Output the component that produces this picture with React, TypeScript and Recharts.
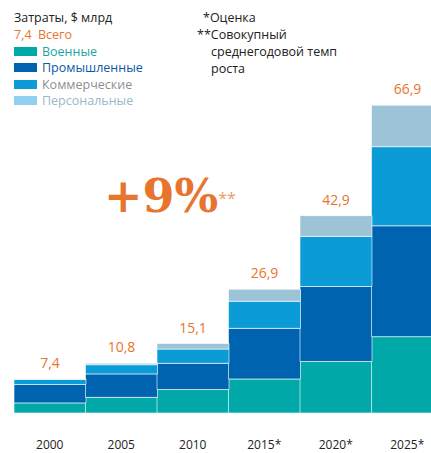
import { Bar, BarChart, LabelList, XAxis, YAxis } from 'recharts'

const years = ['2000', '2005', '2010', '2015*', '2020*', '2025*']
const military = [2.2, 3.4, 5.1, 7.4, 11.2, 16.6]
const industrial = [4.0, 5.1, 5.7, 11.0, 16.3, 24.1]
const commercial = [1.1, 2.0, 3.1, 5.9, 10.9, 17.2]
const personal = [0.1, 0.3, 1.2, 2.6, 4.5, 9.0]
const totals = [7.4, 10.8, 15.1, 26.9, 42.9, 66.9]

const colors = {
  military: '#00a9a8',
  industrial: '#0063b0',
  commercial: '#0b9bd7',
  personal: '#9dc3d6',
}
const orange = '#e8742e'
const font = '"Open Sans", "DejaVu Sans", sans-serif'

const data = years.map((year, i) => ({
  year,
  military: military[i],
  industrial: industrial[i],
  commercial: commercial[i],
  personal: personal[i],
  total: totals[i],
}))

const legend = [
  { name: 'Военные', color: colors.military, text: '#1aa59f' },
  { name: 'Промышленные', color: colors.industrial, text: '#0c5aa6' },
  { name: 'Коммерческие', color: colors.commercial, text: '#8a8f94' },
  { name: 'Персональные', color: '#8fd0ee', text: '#9bb8c8' },
]

function YearTick(props: any) {
  const { x, y, payload } = props
  return (
    <text x={x} y={y + 36} textAnchor="middle" fontSize={12} fill="#222" fontFamily={font}>
      {payload.value}
    </text>
  )
}

export default function App() {
  return (
    <div style={{ position: 'absolute', left: 0, top: 0, width: 431, height: 453, overflow: 'hidden', background: '#fff', fontFamily: font }}>
      <BarChart
        width={460}
        height={453}
        data={data}
        margin={{ top: 91, right: 17, bottom: 0, left: 14 }}
        barCategoryGap={0}
        style={{ position: 'absolute', left: 0, top: 0 }}
      >
        <XAxis dataKey="year" axisLine={false} tickLine={false} tickSize={0} tickMargin={0} tick={<YearTick />} interval={0} height={40} />
        <YAxis hide domain={[0, 70]} />
        <Bar dataKey="military" stackId="a" fill={colors.military} stroke="#fff" strokeWidth={0.6} isAnimationActive={false} />
        <Bar dataKey="industrial" stackId="a" fill={colors.industrial} stroke="#fff" strokeWidth={0.6} isAnimationActive={false} />
        <Bar dataKey="commercial" stackId="a" fill={colors.commercial} stroke="#fff" strokeWidth={0.6} isAnimationActive={false} />
        <Bar dataKey="personal" stackId="a" fill={colors.personal} stroke="#fff" strokeWidth={0.6} isAnimationActive={false}>
          <LabelList
            dataKey="total"
            position="top"
            offset={11}
            fill={orange}
            fontSize={14}
            fontFamily={font}
            formatter={(v: any) => String(v).replace('.', ',')}
          />
        </Bar>
      </BarChart>

      <div style={{ position: 'absolute', left: 14, top: 9, fontSize: 12.5, lineHeight: '17px', color: '#222' }}>
        <div>Затраты, $ млрд</div>
        <div style={{ color: orange }}>7,4&nbsp; Всего</div>
        {legend.map(item => (
          <div key={item.name} style={{ display: 'flex', alignItems: 'center', height: 16.5, color: item.text }}>
            <span style={{ display: 'inline-block', width: 23, height: 9, background: item.color, marginRight: 5 }} />
            {item.name}
          </div>
        ))}
      </div>

      <div style={{ position: 'absolute', left: 197, top: 9, fontSize: 12.5, lineHeight: '17px', color: '#222' }}>
        <div style={{ paddingLeft: 6 }}>*Оценка</div>
        <div>**Совокупный</div>
        <div style={{ paddingLeft: 14 }}>среднегодовой темп</div>
        <div style={{ paddingLeft: 14 }}>роста</div>
      </div>

      <div
        style={{
          position: 'absolute',
          left: 104,
          top: 168,
          fontFamily: '"DejaVu Serif", "Liberation Serif", serif',
          fontWeight: 'bold',
          fontSize: 46,
          color: orange,
          lineHeight: '56px',
          whiteSpace: 'nowrap',
        }}
      >
        +9%<span style={{ fontSize: 16, verticalAlign: 'top', position: 'relative', top: 2, fontFamily: font, fontWeight: 'normal', color: '#ee9a66' }}>**</span>
      </div>
    </div>
  )
}
